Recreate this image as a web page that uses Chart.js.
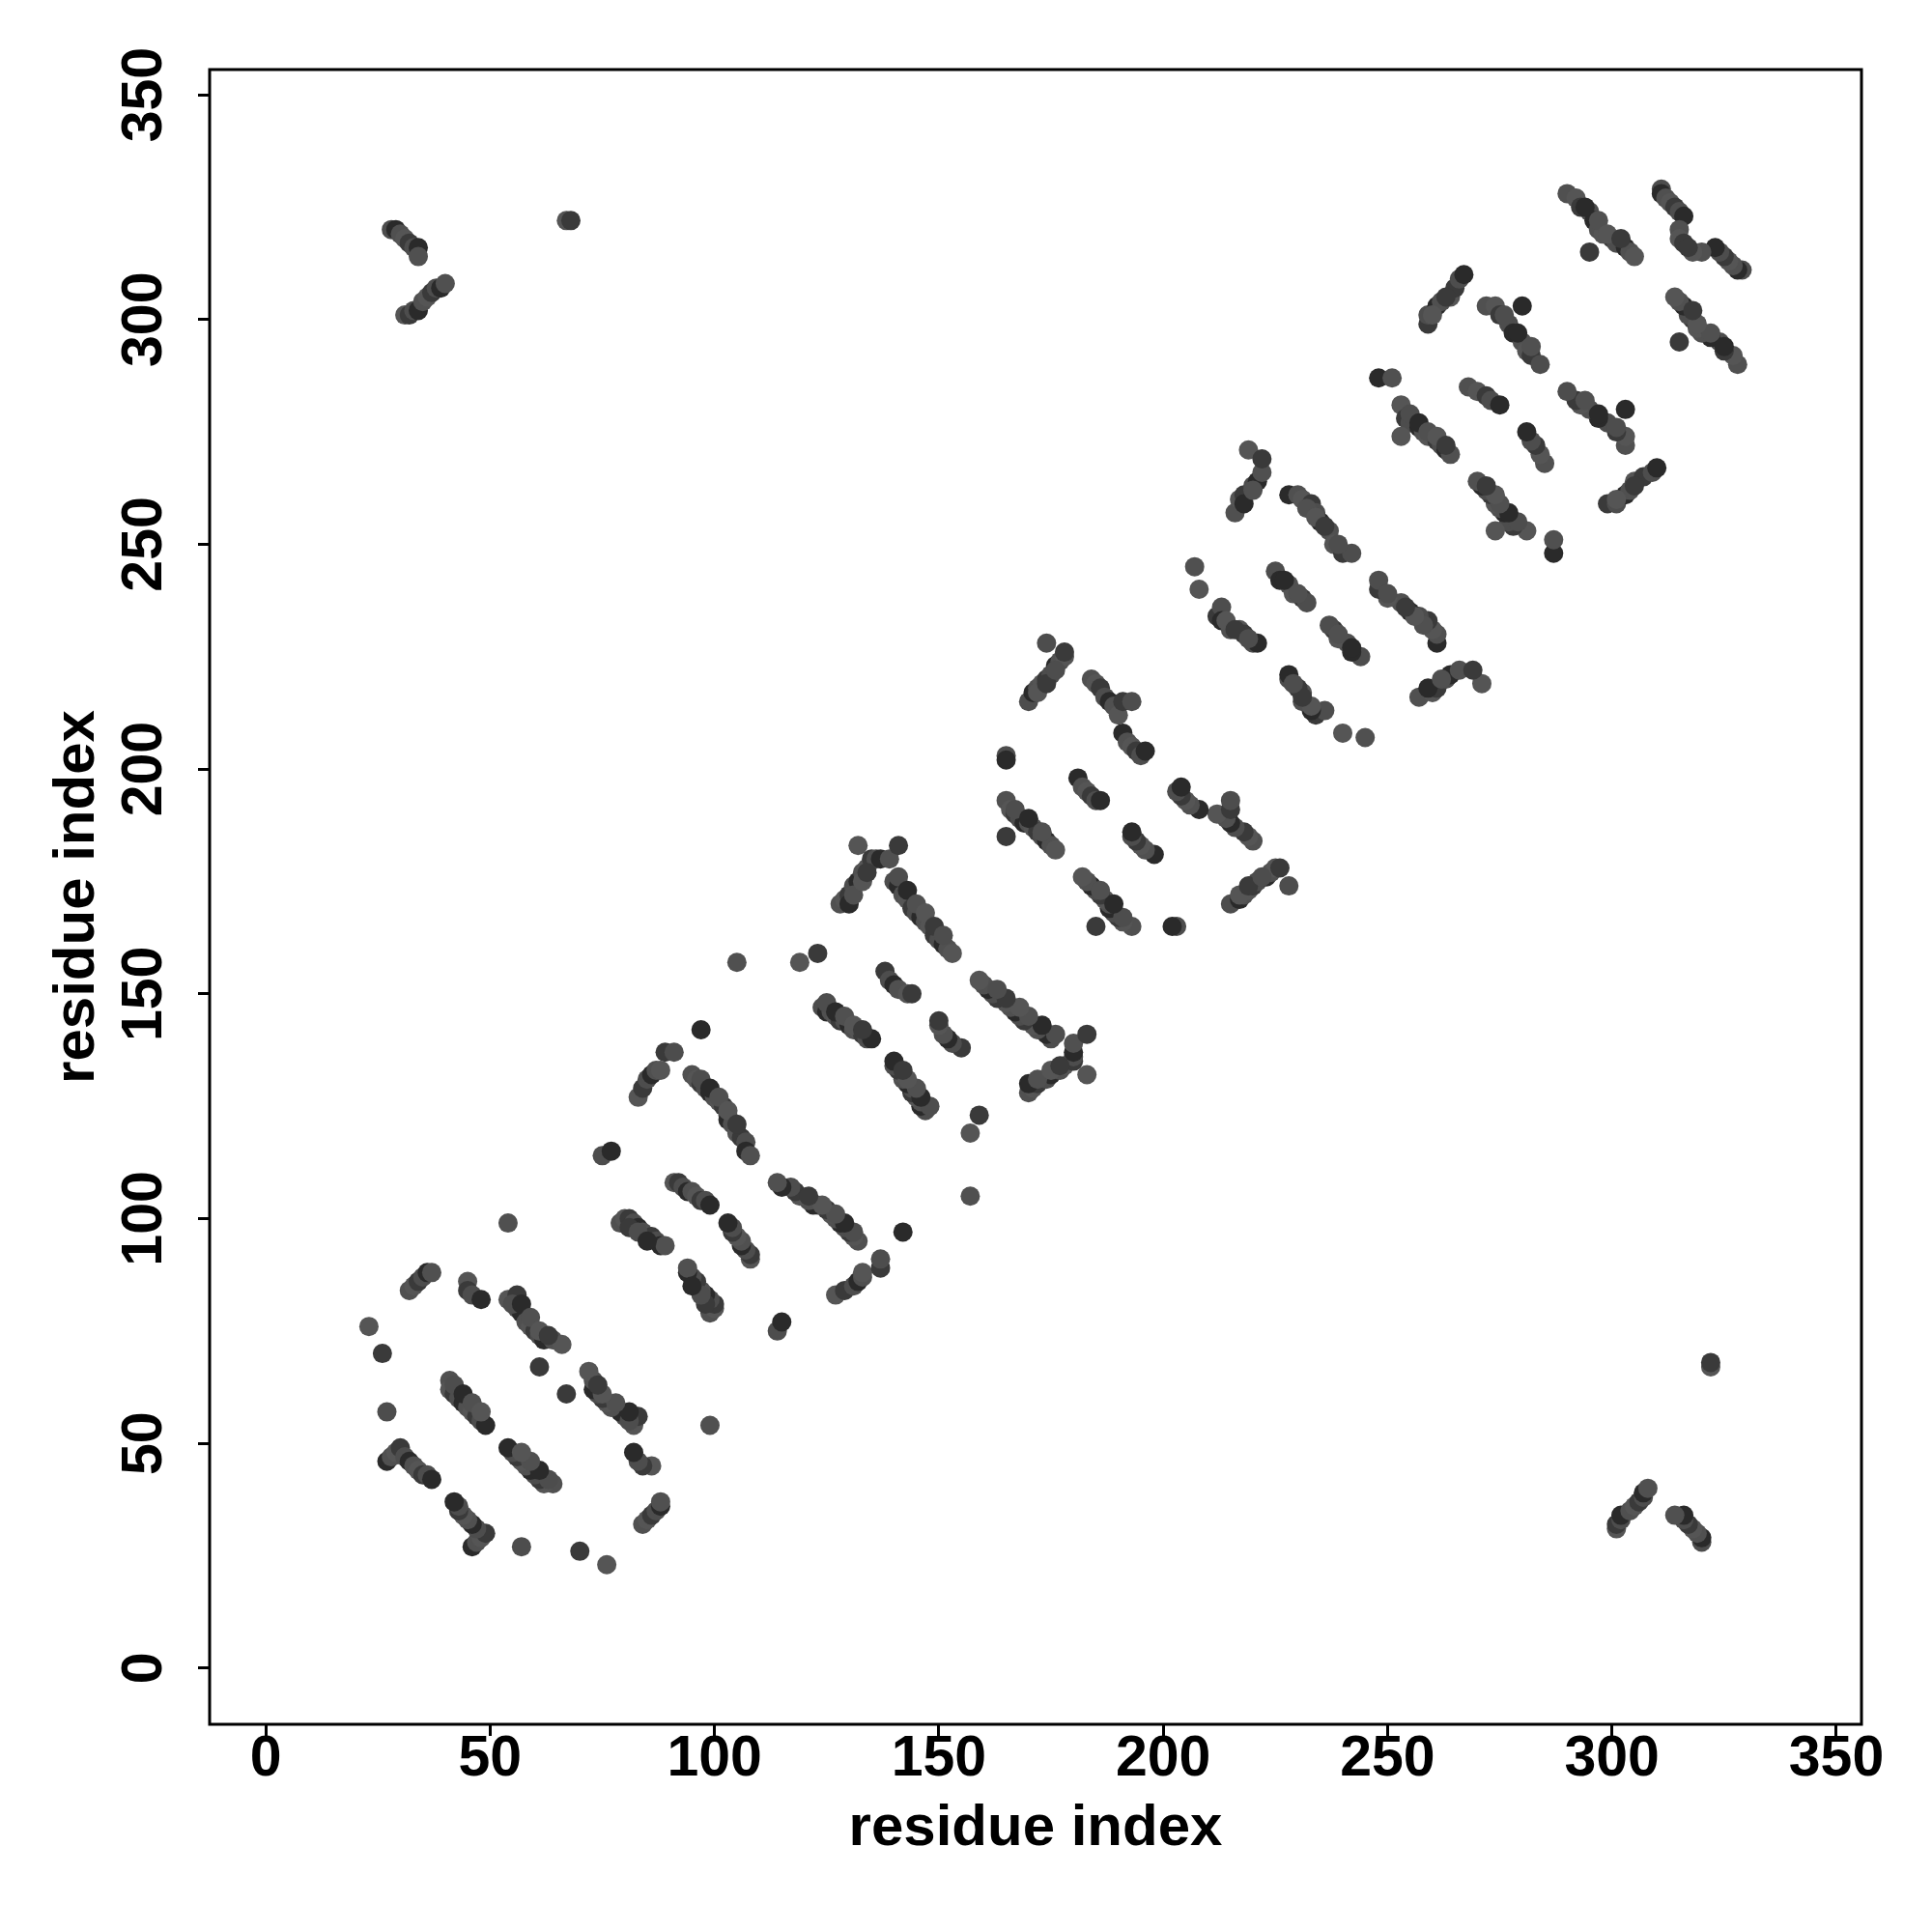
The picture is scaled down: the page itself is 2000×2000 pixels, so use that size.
<!DOCTYPE html>
<html><head><meta charset="utf-8">
<script src="https://cdn.jsdelivr.net/npm/chart.js"></script>
<style>html,body{margin:0;padding:0;background:#fff}</style>
</head><body>
<canvas id="c" width="2000" height="2000" style="width:2000px;height:2000px;display:block"></canvas>
<script>
const residueI = [
  23,26,27,
  27,28,29,30,31,32,33,34,35,36,37,
  32,33,34,35,36,37,
  45,45,46,48,
  41,41,42,43,44,45,46,47,48,49,
  54,
  54,56,56,57,58,59,60,61,62,64,66,
  61,
  75,77,
  79,80,81,82,83,84,85,86,87,88,89,
  83,84,85,86,87,88,89,91,
  97,105,
  91,92,93,94,95,96,97,98,99,
  95,96,97,98,99,100,101,102,103,103,104,105,106,107,107,108,
  119,123,
  124,125,126,127,128,129,130,131,132,133,134,135,
  128,129,130,131,132,133,134,135,136,137,139,132,141,
  140,141,142,143,144,145,146,147,148,149,150,151,152,153,
  138,139,140,141,143,144,
  165,165,165,166,167,168,169,170,171,172,173,174,175,176,165,
  170,171,172,173,174,175,176,177,178,178,174,
  181,182,183,184,185,186,
  184,185,186,187,188,189,190,191,193,
  191,192,193,194,195,196,
  207,208,
  212,213,213,215,217,218,220,221,
  216,217,218,220,221,222,219,222,
  225,226,228,229,231,232,
  228,230,231,233,234,235,237,238,240,242,
  248,251,
  253,254,255,257,258,259,261,262,263,264,253,
  259,259,261,262,264,265,266,267,
  272,274,275,277,278,280,281,282,284,280,
  268,270,272,273,275,
  290,292,293,295,296,297,298,300,301,303,304,305,295,
  311,311,312,313,314,315,316,315,315,316,
  28,29,30,31,32,33,34,34,31,32,33,34,35,36,37,38,39,40,67,68,
  // second rows of the thicker stripes
  125,127,129,131,133, 255,257,259,261,263, 97,99,101,103,105, 141,143,145,147,149,151,
  130,131,133,134, 55,57,59,61,63, 42,44,46,48, 81,83,85, 232,234,236,239, 294,297,299,302,
  276,279,282, 260,263, 167,170,173, 172,174,176, 218,220, 214,216,219, 227,230
];
const residueJ = [
  76,70,57,
  46,47,48,49,47,46,45,44,43,43,42,
  84,85,86,87,88,88,
  86,84,83,82,
  64,62,61,60,59,58,57,56,55,54,
  99,
  82,83,80,79,77,76,75,74,73,73,72,
  67,
  114,115,
  99,100,100,99,98,97,96,96,95,94,94,
  127,129,131,132,133,133,137,137,
  142,157,
  108,108,107,106,106,105,104,104,103,
  132,131,130,129,128,127,126,125,123,122,121,119,118,117,115,114,
  157,159,
  147,146,146,145,144,144,143,142,142,141,140,140,
  170,171,172,174,175,177,178,180,180,180,180,183,183,
  175,174,172,171,169,168,167,166,165,163,162,161,160,159,
  155,153,152,151,150,150,
  203,202,193,191,190,189,188,188,187,186,185,184,183,182,185,
  215,217,218,219,220,221,223,224,225,226,228,
  198,196,195,194,193,193,
  220,219,218,216,215,214,212,215,215,
  208,206,205,204,203,204,
  245,240,
  234,236,233,231,231,230,228,228,
  257,260,261,263,264,266,271,269,
  244,242,241,239,238,237,
  261,261,260,259,257,255,253,250,248,248,
  287,287,
  281,278,277,276,275,274,273,272,271,270,274,
  299,301,303,304,305,307,309,310,
  303,303,301,299,297,295,293,292,290,303,
  285,284,283,282,281,
  328,327,325,324,322,320,319,318,317,316,315,314,315,
  329,328,327,326,325,324,323,320,318,317,
  320,320,319,318,317,316,316,314,301,301,302,302,304,305,306,307,307,308,322,322,
  148,146,145,143,142, 279,277,275,274,272, 131,129,127,124,121, 176,173,170,168,165,163,
  170,172,175,177, 81,81,78,75,74, 63,61,59,57, 98,97,95, 258,256,254,250, 325,322,319,318,
  301,297,294, 301,305, 191,189,186, 217,219,222, 259,262, 233,231,229, 242,239
];
const tickValues = [0, 50, 100, 150, 200, 250, 300, 350];
const xTitle = "residue index";
const yTitle = "residue index";

const points = [];
for (let k = 0; k < residueI.length; k++) {
  points.push({x: residueI[k], y: residueJ[k]});
  points.push({x: residueJ[k], y: residueI[k]});
}

const FONT = "'Liberation Sans', Arial, Helvetica, sans-serif";
const dotShades = ['#555555', '#3a3a3a', '#4d4d4d', '#2a2a2a', '#505050'];

const boxPlugin = {
  id: 'plotBox',
  afterDatasetsDraw(chart) {
    const {ctx, chartArea: a} = chart;
    ctx.save();
    ctx.strokeStyle = '#000';
    ctx.lineWidth = 3;
    ctx.strokeRect(a.left, a.top, a.right - a.left, a.bottom - a.top);
    ctx.restore();
  }
};

new Chart(document.getElementById('c'), {
  type: 'scatter',
  data: {
    datasets: [{
      data: points,
      pointRadius: 10,
      pointHoverRadius: 10,
      borderWidth: 0,
      backgroundColor: c => dotShades[Math.floor(c.dataIndex / 2) % dotShades.length]
    }]
  },
  plugins: [boxPlugin],
  options: {
    responsive: false,
    devicePixelRatio: 1,
    animation: false,
    layout: { padding: { left: 0, top: 72, right: 73, bottom: 0 } },
    plugins: { legend: { display: false }, tooltip: { enabled: false } },
    scales: {
      x: {
        type: 'linear',
        min: -12.5, max: 355.6,
        afterBuildTicks: s => { s.ticks = tickValues.map(v => ({value: v})); },
        afterFit: s => { s.height = 215; },
        border: { display: false },
        grid: { drawOnChartArea: false, drawTicks: true, tickLength: 12, tickWidth: 3, tickColor: '#000', color: '#000' },
        ticks: { color: '#000', autoSkip: false, maxRotation: 0, minRotation: 0, padding: -5,
                 font: { family: FONT, size: 59, weight: 'bold', lineHeight: 1 } },
        title: { display: true, text: xTitle, color: '#000', padding: { top: 0, bottom: 71 },
                 font: { family: FONT, size: 60, weight: 'bold', lineHeight: 1.2 } }
      },
      y: {
        type: 'linear',
        min: -12.5, max: 355.6,
        afterBuildTicks: s => { s.ticks = tickValues.map(v => ({value: v})); },
        afterFit: s => { s.width = 217; },
        border: { display: false },
        grid: { drawOnChartArea: false, drawTicks: true, tickLength: 12, tickWidth: 3, tickColor: '#000', color: '#000' },
        ticks: { color: '#000', autoSkip: false, minRotation: 90, maxRotation: 90, crossAlign: 'center', padding: 5,
                 font: { family: FONT, size: 59, weight: 'bold', lineHeight: 1 } },
        title: { display: true, text: yTitle, color: '#000', padding: { top: 44, bottom: 0 },
                 font: { family: FONT, size: 60, weight: 'bold', lineHeight: 1.2 } }
      }
    }
  }
});
</script>
</body></html>
